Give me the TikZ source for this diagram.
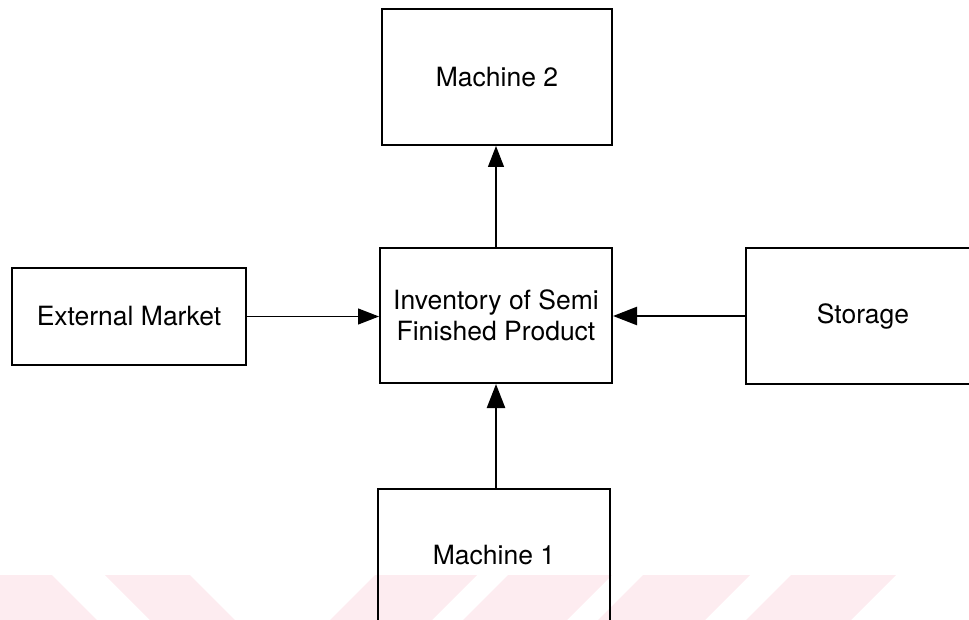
\documentclass[tikz,border=0pt]{standalone}
\usepackage{fontspec}
\setmainfont{TeX Gyre Heros}
\usetikzlibrary{arrows.meta}
\definecolor{wmpink}{RGB}{253,236,240}
\begin{document}
\begin{tikzpicture}[x=1pt,y=-1pt,
  blk/.style={draw, line width=2pt, inner sep=0pt, align=center,
    font=\fontsize{26.5}{31}\selectfont},
  thinflow/.style={line width=1.2pt, -{Triangle[length=21pt,width=16pt]}},
  thickflow/.style={line width=2.4pt, -{Triangle[length=24pt,width=18pt]}},
  band/.style={fill=wmpink, draw=none}]
\useasboundingbox (0,0) rectangle (969,620);
\clip (0,0) rectangle (969,620);

% faint striped band along the bottom edge
\fill[band] (-5,575) -- (52,575) -- (97,620) -- (-5,620) -- cycle;
\fill[band] (105,575) -- (190,575) -- (235,620) -- (150,620) -- cycle;
\fill[band] (375,575) -- (477,575) -- (432,620) -- (330,620) -- cycle;
\fill[band] (508,575) -- (612,575) -- (567,620) -- (463,620) -- cycle;
\fill[band] (643,575) -- (750,575) -- (705,620) -- (598,620) -- cycle;
\fill[band] (791,575) -- (896,575) -- (851,620) -- (746,620) -- cycle;

% blocks
\node[blk, minimum width=230pt, minimum height=136pt] (m2) at (497,77) {Machine 2};
\node[blk, minimum width=232pt, minimum height=135pt] (inv) at (496,315.5)
  {Inventory of Semi\\Finished Product};
\node[blk, minimum width=234pt, minimum height=97pt] (ext) at (129,316.5) {External Market};
\node[blk, minimum width=234pt, minimum height=136pt] (sto) at (863,316) {Storage};
\node[blk, minimum width=232pt, minimum height=160pt] (m1) at (494,569) {};
\node[font=\fontsize{26.5}{31}\selectfont] (m1t) at (494,555) {Machine 1};

% flows into and out of the inventory
\draw[thinflow] (ext.east) -- (ext.east -| inv.west);
\draw[thickflow] (sto.west) -- (sto.west -| inv.east);
\draw[thickflow] (m1.north -| inv.south) -- (inv.south);
\draw[thinflow] (inv.north) -- (inv.north |- m2.south);
\end{tikzpicture}
\end{document}
